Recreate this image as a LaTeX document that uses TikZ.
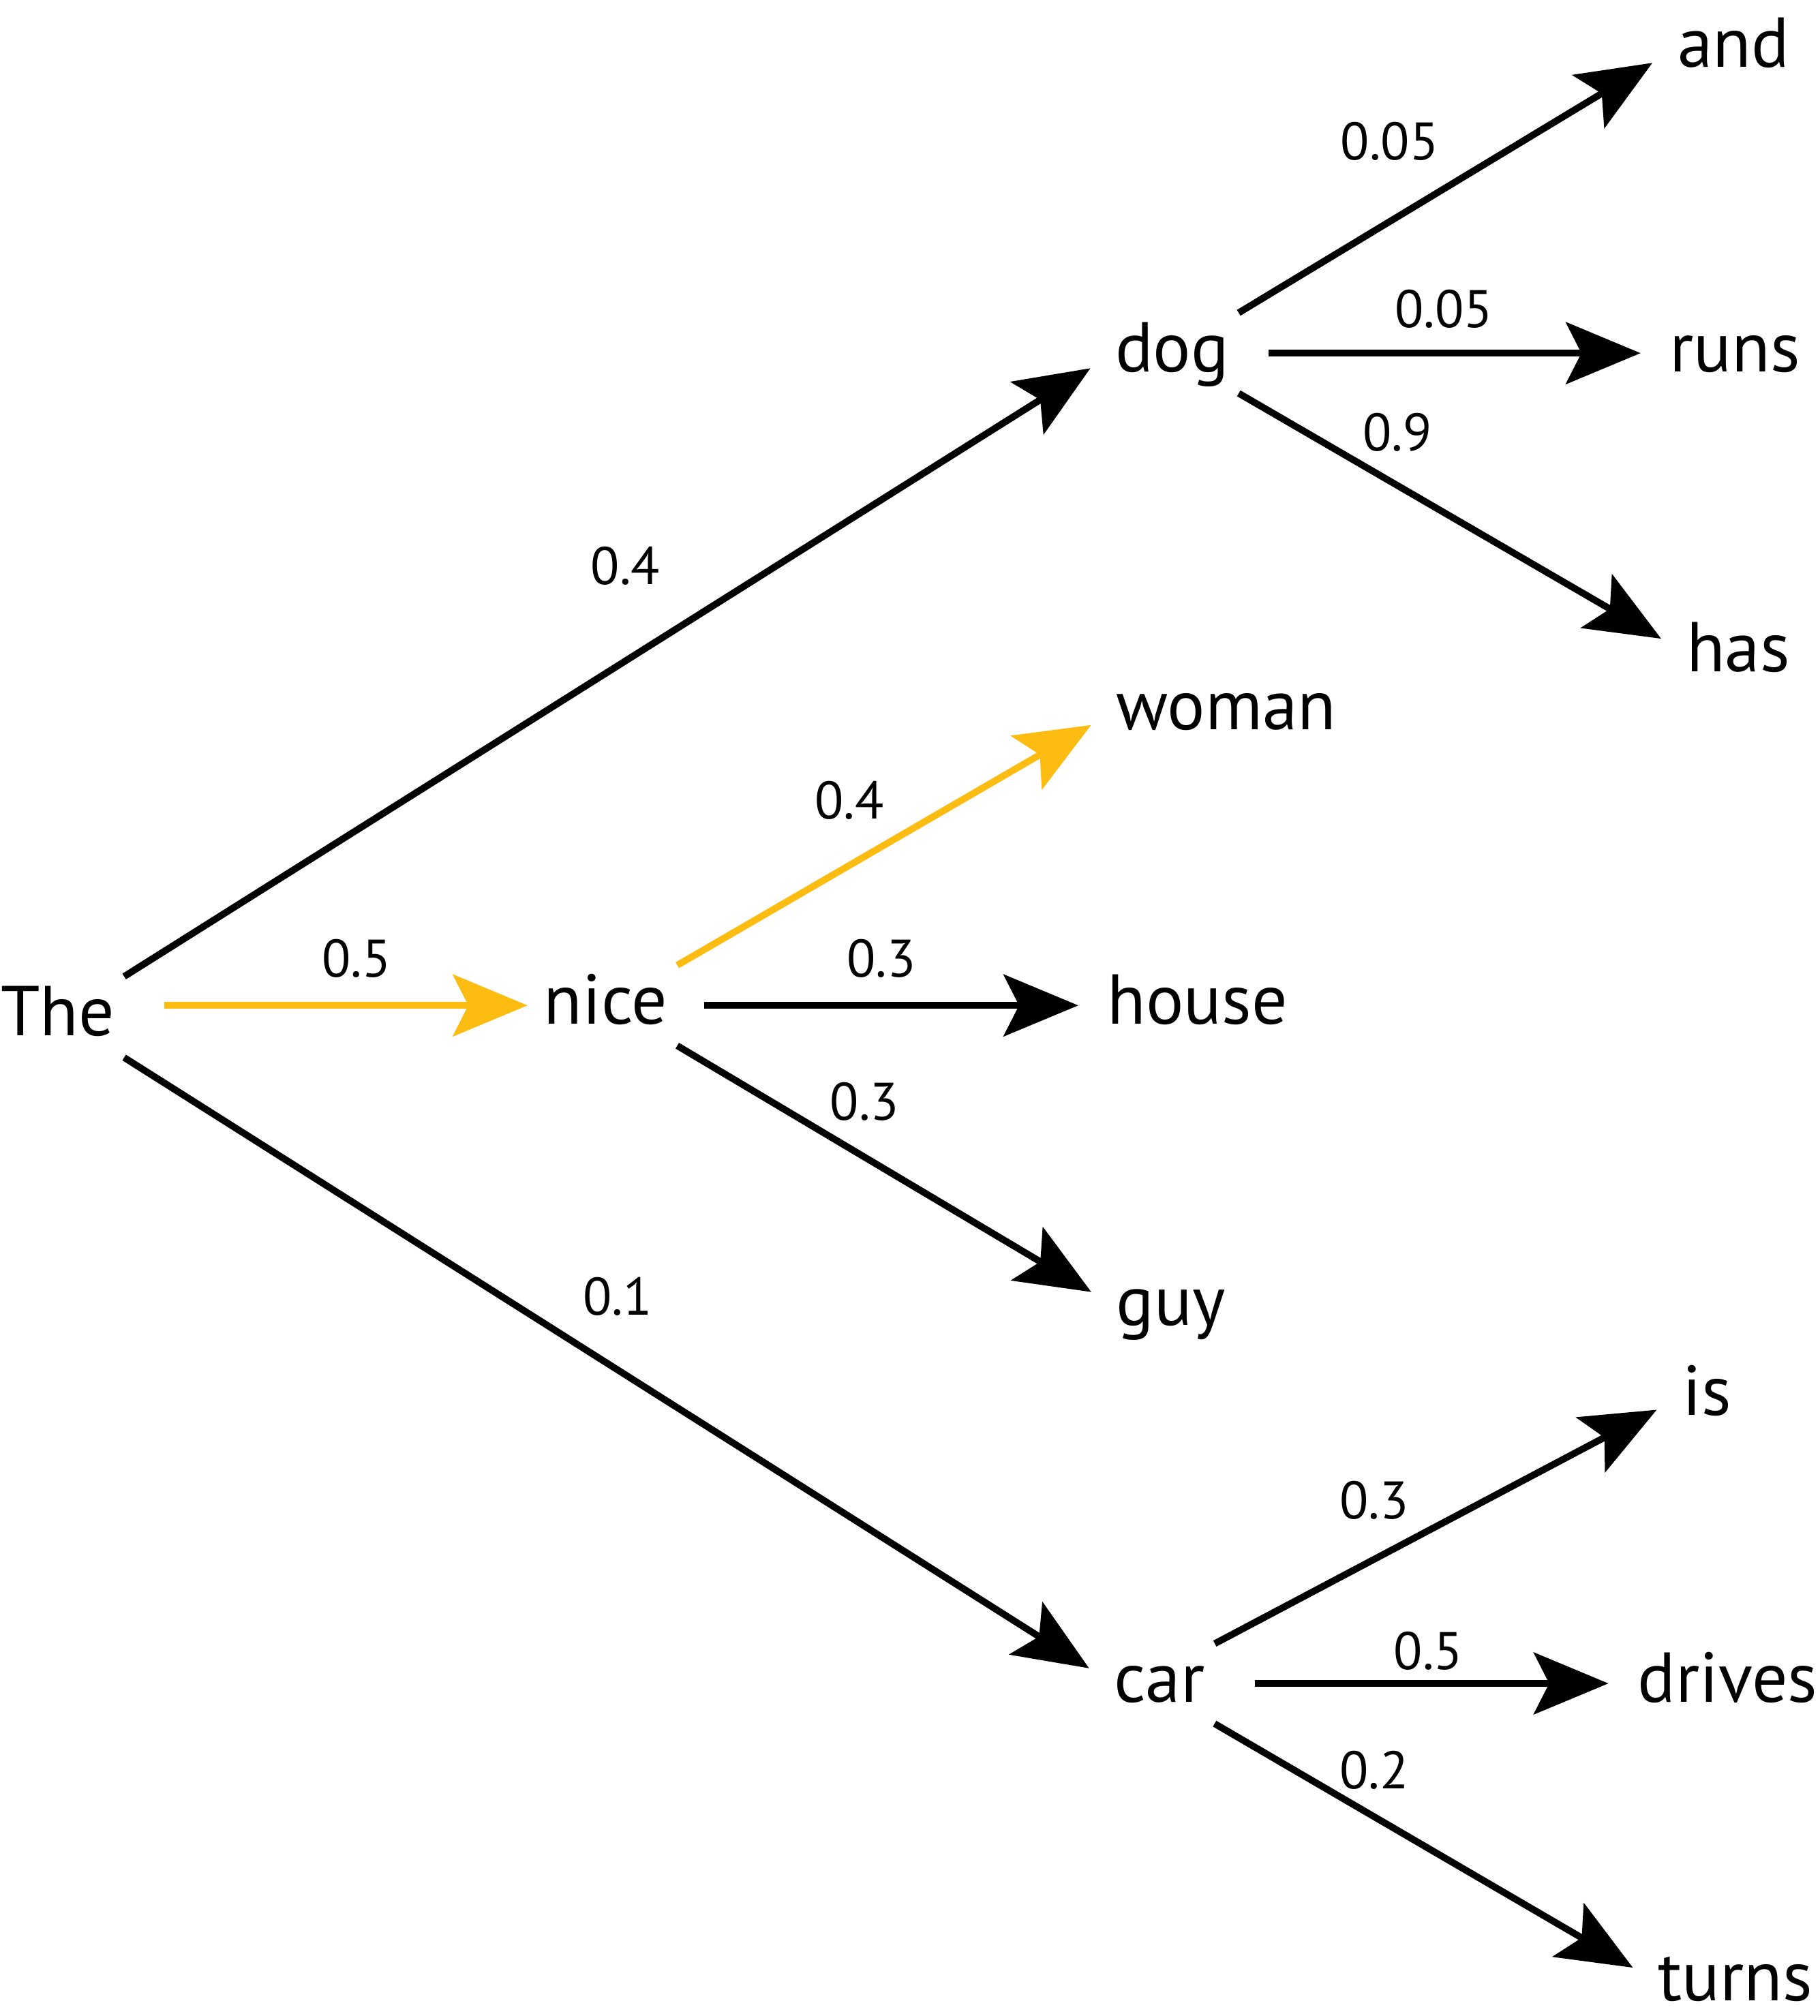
\documentclass[tikz,border=0pt]{standalone}
\usepackage{fontspec}
\setmainfont{PT Sans}
\usetikzlibrary{arrows.meta}
\definecolor{amber}{RGB}{253,188,17}

\begin{document}
\begin{tikzpicture}[x=0.01cm,y=-0.01cm,
  word/.style={font=\fontsize{15.6}{19}\selectfont, inner sep=0pt, text height=0.41cm, text depth=0.12cm, anchor=base west},
  prob/.style={font=\fontsize{11.7}{14}\selectfont, inner sep=0pt},
  link/.style={line width=1.5pt, shorten >=0.22cm, -{Stealth[length=0.58cm,width=0.48cm,inset=0.12cm]}},
  best/.style={link, amber}]
\useasboundingbox (0,0) rectangle (1414,1567);

% words
\node[word] (The) at (0,805) {The};
\node[word] (nice) at (422,796) {nice};
\node[word] (dog) at (866,289) {dog};
\node[word] (woman) at (867,567) {woman};
\node[word] (house) at (860,796) {house};
\node[word] (guy) at (867,1030) {guy};
\node[word] (car) at (865,1323) {car};
\node[word] (and) at (1303,52) {and};
\node[word] (runs) at (1297,289) {runs};
\node[word] (has) at (1310,522) {has};
\node[word] (is) at (1307,1100) {is};
\node[word] (drives) at (1272,1323) {drives};
\node[word] (turns) at (1288,1555) {turns};

% first step
\draw[link, shorten <=0.08cm] (The.north east) -- (dog.west);
\draw[best, shorten <=0.38cm, shorten >=0.12cm] (The.east |- nice.west) -- (nice.west);
\draw[link, shorten <=0.08cm] (The.south east) -- (car.west);

% second step
\draw[best, shorten <=0.08cm] (nice.north east) -- (woman.west);
\draw[link, shorten <=0.28cm] (nice.east) -- (house.west);
\draw[link, shorten <=0.08cm] (nice.south east) -- (guy.west);
\draw[link, shorten <=0.08cm] (dog.north east) -- (and.west);
\draw[link, shorten <=0.3cm] (dog.east) -- (runs.west);
\draw[link, shorten <=0.08cm] (dog.south east) -- (has.west);
\draw[link, shorten <=0.08cm] (car.north east) -- (is.west);
\draw[link, shorten <=0.38cm] (car.east) -- (drives.west);
\draw[link, shorten <=0.08cm] (car.south east) -- (turns.west);

% probabilities
\node[prob] (pdog) at (486,440) {0.4};
\node[prob] (pnice) at (277,745) {0.5};
\node[prob] (pcar) at (480,1008) {0.1};
\node[prob] (pwoman) at (660,622) {0.4};
\node[prob] (phouse) at (685,745) {0.3};
\node[prob] (pguy) at (672,856) {0.3};
\node[prob] (pand) at (1080,110) {0.05};
\node[prob] (pruns) at (1122,240) {0.05};
\node[prob] (phas) at (1086,336) {0.9};
\node[prob] (pis) at (1068,1166) {0.3};
\node[prob] (pdrives) at (1110,1283) {0.5};
\node[prob] (pturns) at (1068,1376) {0.2};
\end{tikzpicture}
\end{document}
